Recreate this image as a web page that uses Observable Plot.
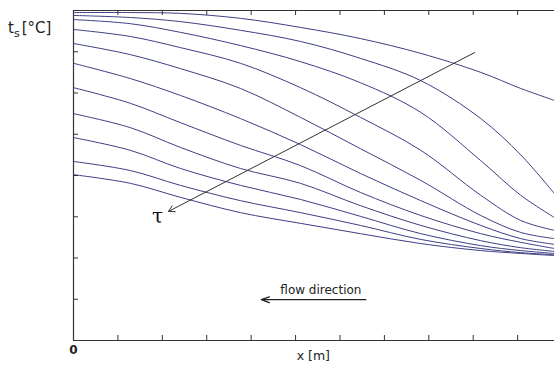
<!DOCTYPE html>
<html>
<head>
<meta charset="utf-8">
<script src="https://cdn.jsdelivr.net/npm/d3@7"></script>
<script src="https://cdn.jsdelivr.net/npm/@observablehq/plot@0.6"></script>
<style>
  html, body { margin: 0; padding: 0; background: #fff; overflow: hidden; }
  #chart svg { display: block; }
</style>
</head>
<body>
<div id="chart"></div>
<script>
// sample positions along x (tick units)
const xPos = [0, 1.28, 2.41, 3.76, 5.11, 6.46, 7.82, 9.17, 10.07, 10.83];
// temperature profiles, earliest (top) to latest (bottom)
const curve1  = [7.95, 7.95, 7.93, 7.81, 7.59, 7.32, 6.96, 6.50, 6.11, 5.82];
const curve2  = [7.88, 7.83, 7.73, 7.52, 7.25, 6.84, 6.30, 5.38, 4.50, 3.56];
const curve3  = [7.78, 7.68, 7.47, 7.15, 6.76, 6.25, 5.53, 4.36, 3.52, 2.98];
const curve4  = [7.54, 7.37, 7.10, 6.72, 6.13, 5.41, 4.61, 3.52, 2.91, 2.67];
const curve5  = [7.20, 6.93, 6.59, 6.11, 5.41, 4.65, 3.88, 3.03, 2.62, 2.47];
const curve6  = [6.72, 6.35, 5.94, 5.38, 4.75, 4.05, 3.39, 2.79, 2.47, 2.33];
const curve7  = [6.13, 5.75, 5.28, 4.73, 4.24, 3.59, 3.03, 2.59, 2.38, 2.23];
const curve8  = [5.50, 5.16, 4.68, 4.17, 3.81, 3.27, 2.79, 2.42, 2.25, 2.16];
const curve9  = [4.92, 4.61, 4.17, 3.76, 3.42, 3.01, 2.59, 2.30, 2.18, 2.11];
const curve10 = [4.34, 4.12, 3.76, 3.39, 3.10, 2.79, 2.45, 2.23, 2.13, 2.08];
const curve11 = [4.02, 3.81, 3.47, 3.10, 2.84, 2.59, 2.35, 2.18, 2.11, 2.06];
const curves = [curve1, curve2, curve3, curve4, curve5, curve6, curve7, curve8, curve9, curve10, curve11];

const xTicks = [1, 2, 3, 4, 5, 6, 7, 8, 9, 10];
const yTicks = [1, 2, 3, 4, 5, 6, 7];
const xDomain = [0, 10.83];
const yDomain = [0, 8];

const tauArrow = [{x1: 9.03, y1: 6.98, x2: 2.14, y2: 3.13}];
const tauLabel = [{x: 1.89, y: 3.0, text: "τ"}];
const flowArrow = [{x1: 6.58, y1: 0.99, x2: 4.23, y2: 0.99}];
const flowLabel = [{x: 5.57, y: 1.22, text: "flow direction"}];
const xLabel = [{x: 5.4, text: "x [m]"}];
const zeroLabel = [{x: 0, text: "0"}];

const rows = curves.flatMap((vals, i) => vals.map((v, j) => ({x: xPos[j], t: v, series: i})));

const W = 554, H = 367;
const plot = Plot.plot({
  width: W,
  height: H,
  marginLeft: 73,
  marginRight: 0,
  marginTop: 10,
  marginBottom: 27,
  x: {domain: xDomain, axis: null},
  y: {domain: yDomain, axis: null},
  style: {fontFamily: "DejaVu Sans", background: "#fff"},
  marks: [
    Plot.line(rows, {x: "x", y: "t", z: "series", stroke: "#3d3f85", strokeWidth: 1, curve: "catmull-rom"}),
    Plot.ruleY([0], {stroke: "#333", strokeWidth: 1.2}),
    Plot.ruleY([8], {stroke: "#333", strokeWidth: 1.2}),
    Plot.ruleX([0], {stroke: "#333", strokeWidth: 1.2}),
    Plot.tickX(xTicks, {x: d => d, insetTop: 325, stroke: "#333"}),
    Plot.tickX(xTicks, {x: d => d, insetBottom: 325, stroke: "#333"}),
    Plot.tickY(yTicks, {y: d => d, insetRight: 476, stroke: "#333"}),
    Plot.arrow(tauArrow, {x1: "x1", y1: "y1", x2: "x2", y2: "y2", stroke: "#333", strokeWidth: 1, headLength: 10, bend: false}),
    Plot.text(tauLabel, {x: "x", y: "y", text: "text", fontFamily: "DejaVu Serif", fontSize: 20, fill: "#111"}),
    Plot.arrow(flowArrow, {x1: "x1", y1: "y1", x2: "x2", y2: "y2", stroke: "#222", strokeWidth: 1.4, headLength: 9, headAngle: 40, bend: false}),
    Plot.text(flowLabel, {x: "x", y: "y", text: "text", fontSize: 12, fill: "#222"}),
    Plot.text(xLabel, {x: "x", text: "text", frameAnchor: "bottom", dy: 19, fontSize: 12.5, fill: "#222"}),
    Plot.text(zeroLabel, {x: "x", text: "text", frameAnchor: "bottom", dy: 13, fontSize: 12, fontWeight: "bold", fill: "#222"})
  ]
});
document.getElementById("chart").appendChild(plot);

// y-axis label with subscript
const svg = d3.select(plot);
const yl = svg.append("text")
  .attr("x", 8).attr("y", 33)
  .attr("text-anchor", "start")
  .attr("font-family", "DejaVu Sans")
  .attr("font-size", 15)
  .attr("fill", "#222");
yl.append("tspan").text("t");
yl.append("tspan").attr("font-size", 11).attr("dy", 4).text("s");
yl.append("tspan").attr("dy", -4).attr("dx", 2).text("[°C]");
</script>
</body>
</html>
